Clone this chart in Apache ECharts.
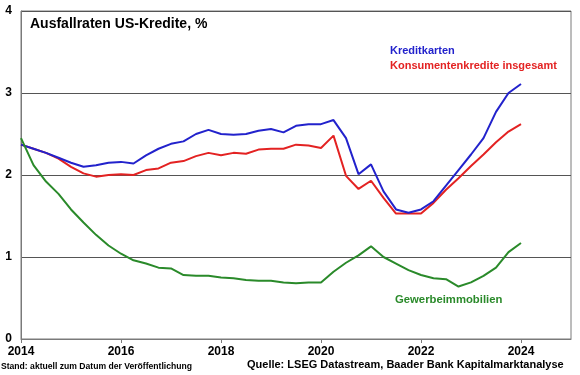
<!DOCTYPE html>
<html>
<head>
    <meta charset="utf-8">
    <script src="https://cdn.jsdelivr.net/npm/echarts@6/dist/echarts.min.js"></script>
    <title>Ausfallraten US-Kredite</title>
    <style>
        html, body { margin: 0; padding: 0; background: #fff; }
        #container { width: 580px; height: 375px; }
    </style>
</head>
<body>
<div id="container"></div>
<script>
    // quarters from 2014 Q1 to 2025 Q1 (axis end)
    var quarters = [
        '2014Q1','2014Q2','2014Q3','2014Q4','2015Q1','2015Q2','2015Q3','2015Q4',
        '2016Q1','2016Q2','2016Q3','2016Q4','2017Q1','2017Q2','2017Q3','2017Q4',
        '2018Q1','2018Q2','2018Q3','2018Q4','2019Q1','2019Q2','2019Q3','2019Q4',
        '2020Q1','2020Q2','2020Q3','2020Q4','2021Q1','2021Q2','2021Q3','2021Q4',
        '2022Q1','2022Q2','2022Q3','2022Q4','2023Q1','2023Q2','2023Q3','2023Q4',
        '2024Q1','2024Q2','2024Q3','2024Q4','2025Q1'
    ];
    var kreditkarten = [
        2.37, 2.32, 2.27, 2.21, 2.15, 2.10, 2.12, 2.15,
        2.16, 2.14, 2.24, 2.32, 2.38, 2.41, 2.50, 2.55,
        2.50, 2.49, 2.50, 2.54, 2.56, 2.52, 2.60, 2.62,
        2.62, 2.67, 2.45, 2.01, 2.13, 1.80, 1.58, 1.54,
        1.58, 1.68, 1.87, 2.06, 2.25, 2.45, 2.77, 3.00,
        3.11
    ];
    var konsumentenkredite = [
        2.37, 2.32, 2.27, 2.20, 2.10, 2.02, 1.98, 2.00,
        2.01, 2.00, 2.06, 2.08, 2.15, 2.17, 2.23, 2.27,
        2.24, 2.27, 2.26, 2.31, 2.32, 2.32, 2.37, 2.36,
        2.33, 2.48, 1.99, 1.83, 1.93, 1.72, 1.53, 1.53,
        1.53, 1.66, 1.82, 1.96, 2.11, 2.25, 2.40, 2.53,
        2.62
    ];
    var gewerbeimmobilien = [
        2.45, 2.12, 1.92, 1.77, 1.58, 1.42, 1.27, 1.14,
        1.04, 0.96, 0.92, 0.87, 0.86, 0.78, 0.77, 0.77,
        0.75, 0.74, 0.72, 0.71, 0.71, 0.69, 0.68, 0.69,
        0.69, 0.82, 0.93, 1.02, 1.13, 1.00, 0.92, 0.84,
        0.78, 0.74, 0.73, 0.64, 0.69, 0.77, 0.87, 1.06,
        1.17
    ];
    var yTicks = [0, 1, 2, 3, 4];

    var font = '"Liberation Sans", Arial, sans-serif';
    var blue = '#2222cc';
    var red = '#e32222';
    var green = '#2a8a2a';

    var myChart = echarts.init(document.getElementById('container'));

    var option = {
        backgroundColor: '#fff',
        animation: false,
        grid: {
            left: 21, right: 9, top: 11, bottom: 36,
            show: true,
            borderColor: '#7a7a7a',
            borderWidth: 1
        },
        xAxis: {
            type: 'category',
            data: quarters,
            boundaryGap: false,
            axisLine: { lineStyle: { color: '#7a7a7a', width: 1 } },
            axisTick: {
                length: 4,
                lineStyle: { color: '#7a7a7a' },
                interval: function (i) { return i % 8 === 0 && i < 44; }
            },
            axisLabel: {
                interval: 0,
                margin: 7,
                color: '#000',
                fontFamily: font,
                fontWeight: 'bold',
                fontSize: 12,
                formatter: function (v) {
                    var y = parseInt(v.slice(0, 4));
                    if (v.slice(4) === 'Q1' && y % 2 === 0 && y <= 2024) return String(y);
                    return '';
                }
            },
            splitLine: { show: false }
        },
        yAxis: {
            type: 'value',
            min: yTicks[0],
            max: yTicks[yTicks.length - 1],
            interval: 1,
            axisLine: { show: true, lineStyle: { color: '#7a7a7a' } },
            axisTick: { show: false },
            axisLabel: {
                margin: 9,
                color: '#000',
                fontFamily: font,
                fontWeight: 'bold',
                fontSize: 12
            },
            splitLine: { show: true, lineStyle: { color: '#555', width: 1 } }
        },
        series: [
            {
                name: 'Kreditkarten',
                type: 'line',
                data: kreditkarten,
                showSymbol: false,
                lineStyle: { color: blue, width: 2 },
                z: 3
            },
            {
                name: 'Konsumentenkredite insgesamt',
                type: 'line',
                data: konsumentenkredite,
                showSymbol: false,
                lineStyle: { color: red, width: 2 },
                z: 2
            },
            {
                name: 'Gewerbeimmobilien',
                type: 'line',
                data: gewerbeimmobilien,
                showSymbol: false,
                lineStyle: { color: green, width: 2 },
                z: 4
            }
        ],
        graphic: [
            {
                type: 'text', left: 30, top: 17,
                style: { text: 'Ausfallraten US-Kredite, %', fill: '#000', font: 'bold 14px ' + font }
            },
            {
                type: 'text', left: 390, top: 45,
                style: { text: 'Kreditkarten', fill: blue, font: 'bold 11px ' + font }
            },
            {
                type: 'text', left: 390, top: 60,
                style: { text: 'Konsumentenkredite insgesamt', fill: red, font: 'bold 11px ' + font }
            },
            {
                type: 'text', left: 395, top: 294,
                style: { text: 'Gewerbeimmobilien', fill: green, font: 'bold 11.3px ' + font }
            },
            {
                type: 'text', left: 1, top: 362,
                style: { text: 'Stand: aktuell zum Datum der Veröffentlichung', fill: '#000', font: 'bold 8.6px ' + font }
            },
            {
                type: 'text', left: 247, top: 359,
                style: { text: 'Quelle: LSEG Datastream, Baader Bank Kapitalmarktanalyse', fill: '#000', font: 'bold 11px ' + font }
            }
        ]
    };

    myChart.setOption(option);
</script>
</body>
</html>
